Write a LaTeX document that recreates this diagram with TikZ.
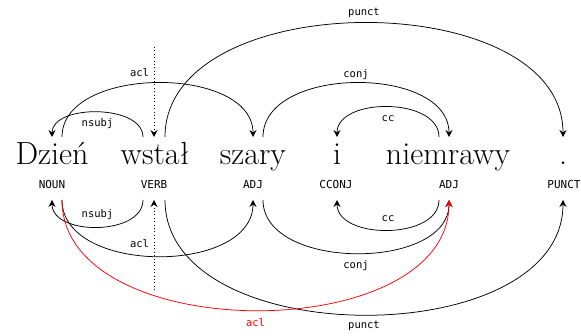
\documentclass[tikz,border=0pt]{standalone}
\usepackage{fontspec}
\newfontfamily\depmono{DejaVu Sans Mono}
\usetikzlibrary{arrows.meta}
\begin{document}
\begin{tikzpicture}[x=1pt,y=-1pt,
  word/.style={anchor=base, font=\fontsize{32}{38}\selectfont, inner xsep=0pt, inner ysep=0pt, text height=22pt, text depth=6pt, outer ysep=6pt},
  postag/.style={anchor=base, font=\depmono\fontsize{11}{13}\selectfont, inner sep=0pt, text height=8pt, text depth=0pt, outer ysep=11pt},
  arc/.style={line width=0.75pt, -{Stealth[length=7pt,width=7pt,inset=2.5pt]}},
  lbl/.style={font=\depmono\fontsize{10.5}{12}\selectfont, inner sep=0pt, anchor=center},
  rootline/.style={line width=0.75pt, dash pattern=on 0.8pt off 2.6pt, -{Stealth[length=7pt,width=7pt,inset=2.5pt]}},
  redarc/.style={arc, red}
]
\useasboundingbox[fill=white] (0,0) rectangle (581,336);
% words
\node[word] (w1) at (52,165) {Dzień};
\node[word] (w2) at (155,165) {wstał};
\node[word] (w3) at (253,165) {szary};
\node[word] (w4) at (337,165) {i};
\node[word] (w5) at (448,165) {niemrawy};
\node[word] (w6) at (563,165) {.};
% POS tags
\node[postag] (p1) at (52,189) {NOUN};
\node[postag] (p2) at (154,189) {VERB};
\node[postag] (p3) at (253,189) {ADJ};
\node[postag] (p4) at (336,189) {CCONJ};
\node[postag] (p5) at (449,189) {ADJ};
\node[postag] (p6) at (564,189) {PUNCT};
% roots
\coordinate (rtop) at (154,47);
\coordinate (rbot) at (154,290);
\draw[rootline] (rtop) -- (rtop |- w2.north);
\draw[rootline] (rbot) -- (p2.south);
% top arcs
\draw[arc] ([xshift=-12pt]w2.north) .. controls +(0,-33) and +(0,-33) .. (w1.north)
  node[lbl, pos=0.5, yshift=-11pt] {nsubj};
\draw[arc] ([xshift=10pt]w1.north) .. controls +(0,-72) and +(0,-72) .. (w3.north)
  node[lbl, pos=0.5, xshift=-18pt, yshift=10pt] {acl};
\draw[arc] ([xshift=10pt]w2.north) .. controls +(0,-152) and +(0,-152) .. (w6.north)
  node[lbl, pos=0.5, yshift=10pt] {punct};
\draw[arc] ([xshift=10pt]w3.north) .. controls +(0,-72) and +(0,-72) .. ([xshift=1pt]w5.north)
  node[lbl, pos=0.5, yshift=8.5pt] {conj};
\draw[arc] ([xshift=-9pt]w5.north) .. controls +(0,-40) and +(0,-40) .. (w4.north)
  node[lbl, pos=0.5, yshift=-12pt] {cc};
% bottom arcs
\draw[arc] ([xshift=-11pt]p2.south) .. controls +(0,36) and +(0,36) .. (p1.south)
  node[lbl, pos=0.5, yshift=12pt] {nsubj};
\draw[arc] ([xshift=10pt]p1.south) .. controls +(0,75) and +(0,75) .. (p3.south)
  node[lbl, pos=0.5, xshift=-18pt, yshift=13pt] {acl};
\draw[arc] ([xshift=11pt]p2.south) .. controls +(0,153) and +(0,153) .. ([xshift=-1pt]p6.south)
  node[lbl, pos=0.5, yshift=-11pt] {punct};
\draw[arc] ([xshift=10pt]p3.south) .. controls +(0,71) and +(0,71) .. (p5.south)
  node[lbl, pos=0.5, yshift=-12pt] {conj};
\draw[arc] ([xshift=-10pt]p5.south) .. controls +(0,40) and +(0,40) .. ([xshift=1pt]p4.south)
  node[lbl, pos=0.5, yshift=11pt] {cc};
\draw[redarc] ([xshift=10pt]p1.south) .. controls +(0,147) and +(0,147) .. (p5.south)
  node[lbl, red, pos=0.5, yshift=-12pt] {acl};
\end{tikzpicture}
\end{document}
